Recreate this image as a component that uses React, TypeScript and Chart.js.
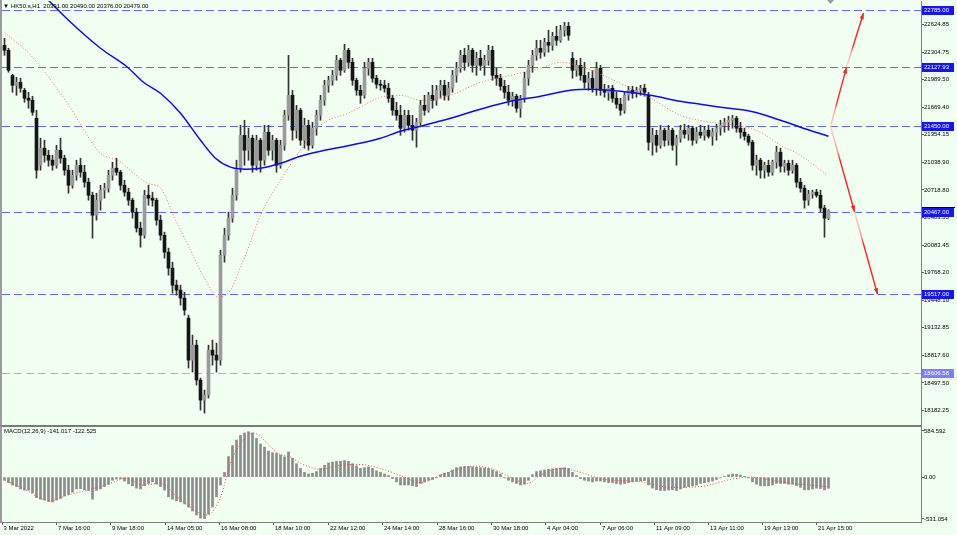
import React, { useEffect, useRef } from "react";
import { Chart, registerables } from "chart.js";
Chart.register(...registerables);

const FONT = "'Liberation Sans', Arial, sans-serif";
const BG = "#f0fff0";

// ---- H1 candles (bar index 0..206) ----
const opens = [
  22382, 22325, 22037, 21922, 21957, 21865, 21773, 21750, 21543, 21002,
  21198, 21117, 21060, 21002, 21175, 21083, 20945, 20772, 20887, 21002,
  20922, 20807, 20657, 20427, 20600, 20715, 20738, 20887, 20968, 20922,
  20772, 20692, 20600, 20462, 20278, 20197, 20657, 20623, 20600, 20370,
  20197, 20002, 19818, 19622, 19565, 19473, 19243, 18760, 18932, 18530,
  18300, 18357, 18875, 18817, 18760, 19967, 20197, 20393, 20657, 20968,
  21347, 21175, 21313, 21002, 21290, 21060, 21382, 21175, 21290, 21002,
  21232, 21577, 21807, 21405, 21635, 21290, 21462, 21232, 21428, 21577,
  21750, 21922, 21980, 22037, 22210, 22095, 22325, 22187, 21980, 21865,
  21807, 22118, 22187, 22003, 21934, 21922, 21888, 21773, 21635, 21577,
  21428, 21577, 21462, 21405, 21497, 21692, 21635, 21807, 21750, 21865,
  21922, 21807, 21888, 22037, 22118, 22267, 22187, 22325, 22152, 22233,
  22152, 22210, 22325, 22037, 22003, 21911, 21842, 21750, 21796, 21658,
  21773, 22003, 22152, 22267, 22348, 22302, 22417, 22382, 22486, 22440,
  22555, 22601, 22233, 22095, 22152, 22037, 21957, 22003, 21888, 22118,
  21865, 21842, 21888, 21773, 21704, 21635, 21807, 21865, 21830, 21865,
  21888, 21807, 21267, 21347, 21232, 21405, 21290, 21405, 21232, 21313,
  21405, 21359, 21428, 21290, 21382, 21347, 21405, 21336, 21382, 21428,
  21462, 21497, 21520, 21543, 21428, 21382, 21336, 21267, 21002, 21060,
  20945, 21002, 20922, 21037, 21152, 20991, 21025, 20945, 21002, 20807,
  20738, 20600, 20669, 20692, 20657, 20508, 20391,
];
const highs = [
  22463, 22348, 22049, 22014, 22003, 21888, 21842, 21796, 21635, 21313,
  21290, 21175, 21117, 21232, 21313, 21117, 21002, 20945, 21060, 21083,
  21002, 20853, 20692, 20680, 20772, 20795, 20945, 21037, 21083, 20945,
  20830, 20738, 20623, 20508, 20347, 20715, 20772, 20692, 20623, 20427,
  20232, 20048, 19887, 19680, 19622, 19542, 19277, 19047, 18990, 18553,
  18415, 18932, 18990, 18955, 20025, 20278, 20462, 20738, 21060, 21462,
  21520, 21428, 21347, 21347, 21313, 21462, 21462, 21347, 21313, 21290,
  21635, 22267, 21865, 21692, 21658, 21543, 21520, 21497, 21635, 21807,
  21980, 22026, 22095, 22267, 22233, 22394, 22348, 22233, 22003, 21922,
  22187, 22233, 22233, 22037, 21980, 21980, 21945, 21807, 21727, 21692,
  21635, 21635, 21577, 21543, 21750, 21807, 21842, 21922, 21922, 21980,
  21980, 21957, 22095, 22187, 22325, 22348, 22382, 22348, 22302, 22325,
  22267, 22382, 22371, 22118, 22049, 21980, 21922, 21842, 21819, 21807,
  22072, 22210, 22325, 22440, 22440, 22463, 22555, 22532, 22601, 22612,
  22647, 22647, 22302, 22210, 22233, 22187, 22072, 22095, 22187, 22152,
  21934, 21922, 21922, 21842, 21773, 21842, 21911, 21911, 21900, 21922,
  21934, 21842, 21428, 21405, 21462, 21428, 21462, 21428, 21347, 21462,
  21474, 21462, 21451, 21440, 21462, 21451, 21462, 21428, 21474, 21520,
  21543, 21566, 21577, 21566, 21497, 21428, 21359, 21290, 21117, 21083,
  21037, 21060, 21060, 21221, 21198, 21060, 21060, 21060, 21025, 20853,
  20772, 20715, 20715, 20726, 20715, 20542, 20490,
];
const lows = [
  22267, 22072, 21842, 21807, 21842, 21727, 21658, 21577, 20853, 20945,
  21037, 20991, 20945, 20968, 21025, 20887, 20680, 20738, 20830, 20864,
  20749, 20600, 20163, 20370, 20485, 20623, 20692, 20830, 20887, 20715,
  20646, 20542, 20393, 20232, 20059, 20163, 20542, 20531, 20312, 20140,
  19933, 19737, 19530, 19507, 19392, 19277, 18668, 18622, 18472, 18185,
  18150, 18323, 18702, 18622, 18702, 19887, 20140, 20347, 20600, 20922,
  21002, 21060, 20922, 20945, 20922, 21002, 21117, 21060, 20922, 20968,
  21175, 21520, 21290, 21313, 21232, 21198, 21175, 21198, 21347, 21520,
  21692, 21842, 21922, 21980, 22037, 22072, 22118, 21922, 21807, 21715,
  21773, 22037, 21957, 21888, 21865, 21842, 21727, 21577, 21520, 21347,
  21382, 21405, 21290, 21210, 21462, 21577, 21612, 21658, 21692, 21773,
  21750, 21750, 21842, 21957, 22072, 22095, 22141, 22072, 22037, 22095,
  22037, 22152, 21980, 21922, 21865, 21773, 21692, 21681, 21612, 21554,
  21727, 21922, 22072, 22210, 22233, 22256, 22302, 22325, 22382, 22417,
  22486, 22440, 22003, 22026, 21980, 21888, 21865, 21842, 21807, 21807,
  21784, 21750, 21727, 21658, 21577, 21600, 21750, 21773, 21784, 21807,
  21796, 21175, 21117, 21152, 21198, 21221, 21232, 21175, 21002, 21267,
  21313, 21290, 21232, 21255, 21313, 21290, 21313, 21232, 21290, 21347,
  21382, 21405, 21428, 21382, 21313, 21290, 21232, 20945, 20887, 20853,
  20853, 20876, 20887, 20968, 20922, 20922, 20887, 20910, 20749, 20692,
  20508, 20542, 20623, 20634, 20462, 20174, 20376,
];
const closes = [
  22325, 22095, 21922, 21957, 21888, 21773, 21750, 21612, 20945, 21198,
  21117, 21060, 21002, 21175, 21083, 20945, 20772, 20887, 21002, 20922,
  20807, 20657, 20427, 20600, 20715, 20738, 20887, 20968, 20922, 20772,
  20692, 20600, 20462, 20278, 20197, 20657, 20623, 20600, 20370, 20197,
  20002, 19818, 19622, 19565, 19473, 19335, 18760, 18932, 18530, 18300,
  18357, 18875, 18817, 18760, 19967, 20197, 20393, 20657, 20968, 21347,
  21175, 21313, 21002, 21290, 21060, 21382, 21175, 21290, 21002, 21232,
  21577, 21807, 21405, 21635, 21290, 21462, 21232, 21428, 21577, 21750,
  21922, 21980, 22037, 22210, 22095, 22325, 22187, 21980, 21865, 21807,
  22118, 22187, 22003, 21934, 21922, 21888, 21773, 21635, 21577, 21428,
  21577, 21462, 21405, 21497, 21692, 21635, 21807, 21750, 21865, 21922,
  21807, 21888, 22037, 22118, 22267, 22187, 22325, 22152, 22233, 22152,
  22210, 22325, 22037, 22003, 21911, 21842, 21750, 21796, 21658, 21773,
  22003, 22152, 22267, 22348, 22302, 22417, 22382, 22486, 22440, 22555,
  22601, 22497, 22095, 22152, 22037, 21957, 22003, 21888, 22118, 21865,
  21842, 21888, 21773, 21704, 21635, 21807, 21865, 21830, 21865, 21888,
  21842, 21267, 21347, 21232, 21405, 21290, 21405, 21232, 21313, 21405,
  21359, 21428, 21290, 21382, 21347, 21405, 21336, 21382, 21428, 21462,
  21497, 21520, 21543, 21428, 21382, 21336, 21267, 21002, 21060, 20945,
  21002, 20922, 21037, 21152, 20991, 21025, 20945, 21002, 20807, 20738,
  20600, 20669, 20692, 20657, 20508, 20393, 20479,
];

// ---- moving averages read at sample bars ----
const slowMaBars = [0, 6, 11, 16, 24, 30.75, 34.75, 39, 44, 49, 52.75, 56.5, 60.25, 64, 69, 74, 79, 86.5, 94, 99, 104, 111.5, 119, 126.5, 134, 141.5, 146.5, 154, 161.5, 169, 174, 179, 186.5, 194, 199, 206];
const slowMa = [23406, 23130, 22900, 22670, 22348, 22130, 21957, 21830, 21600, 21290, 21083, 20980, 20957, 20968, 21025, 21106, 21163, 21232, 21313, 21393, 21451, 21543, 21647, 21738, 21796, 21865, 21876, 21853, 21807, 21738, 21704, 21670, 21624, 21520, 21440, 21336];
const fastMaBars = [0, 7.25, 15.75, 24, 28.25, 35.75, 39, 42.75, 46.5, 50.25, 53.5, 56.5, 59, 60.75, 64, 69, 74, 79, 86.5, 94, 99, 104, 111.5, 119, 126.5, 134, 139, 144, 149, 156.5, 161.5, 169, 176.5, 184, 189, 194, 199, 205.75];
const fastMa = [22532, 22233, 21715, 21140, 21060, 20795, 20738, 20370, 20025, 19680, 19485, 19565, 19830, 20025, 20427, 20830, 21175, 21462, 21612, 21784, 21807, 21750, 21807, 21957, 22037, 22118, 22187, 22141, 22049, 21888, 21773, 21577, 21497, 21451, 21382, 21232, 21117, 20887];

// ---- MACD(12,26,9) ----
const macdMain = [
  -40, -70, -100, -120, -150, -165, -165, -200, -260, -280,
  -290, -310, -315, -290, -270, -240, -220, -190, -150, -145,
  -160, -170, -280, -170, -150, -120, -90, -40, -25, -20,
  -50, -85, -110, -140, -150, -110, -80, -60, -90, -120,
  -165, -250, -280, -300, -315, -340, -380, -430, -480, -520,
  -525, -470, -380, -250, -100, 60, 260, 400, 470, 530,
  560, 575, 560, 490, 420, 380, 330, 310, 300, 280,
  257, 320, 240, 170, 110, 60, 40, 50, 70, 110,
  150, 180, 190, 200, 200, 210, 200, 170, 140, 110,
  120, 130, 110, 80, 60, 40, 20, -20, -60, -100,
  -100, -100, -110, -120, -80, -60, -40, -30, -10, 30,
  50, 60, 90, 120, 130, 135, 135, 130, 125, 120,
  115, 110, 90, 70, 40, -10, -40, -60, -80, -100,
  -90, -40, 30, 70, 80, 90, 100, 105, 110, 115,
  120, 110, 60, 20, -20, -40, -50, -60, -50, -50,
  -60, -70, -70, -80, -90, -80, -70, -60, -55, -50,
  -45, -100, -140, -160, -170, -170, -165, -160, -170, -150,
  -130, -120, -110, -100, -80, -70, -60, -50, -30, -10,
  10, 30, 40, 35, 25, 10, -10, -60, -90, -110,
  -110, -110, -100, -80, -80, -80, -90, -90, -110, -130,
  -160, -160, -150, -140, -145, -160, -141.017,
];
const signalBars = [0, 4, 11.5, 15.75, 20.75, 26.5, 30.25, 34.75, 39, 43.25, 50.75, 54, 56.5, 59, 62.25, 65.75, 68.25, 71.5, 74, 79, 84, 89, 94, 99, 104, 109, 114, 117.25, 121.5, 124, 126.5, 129, 130.75, 134, 139, 144, 149, 159, 166.5, 174, 181.5, 186.5, 194, 199, 206];
const signalVals = [-38, -127, -300, -228, -165, -76, -17, -101, -76, -253, -481, -253, 177, 431, 557, 431, 304, 253, 177, 100, 150, 160, 110, 20, -70, 25, 110, 140, 110, 60, 0, -60, -80, 25, 110, 60, -20, -60, -130, -120, -30, 0, -60, -90, -122.525];

// ---- axes / annotations ----
const priceTicks = [22624.85, 22304.75, 21989.5, 21669.4, 21354.15, 21038.9, 20718.8, 20403.55, 20083.45, 19768.2, 19448.1, 19132.85, 18817.6, 18497.5, 18182.25];
const levels = [22785.0, 22127.93, 21450.0, 20467.0, 19517.0, 18606.58];
const levelLabels = ["22785.00", "22127.93", "21450.00", "20467.00", "19517.00", "18606.58"];
const timeTickBars = [-0.625, 13, 26.5, 40.25, 53.75, 67.25, 81, 94.5, 108.25, 121.75, 135.25, 149, 162.5, 176, 189.5, 203];
const timeLabels = ["3 Mar 2022", "7 Mar 16:00", "9 Mar 18:00", "14 Mar 05:00", "16 Mar 08:00", "18 Mar 10:00", "22 Mar 12:00", "24 Mar 14:00", "28 Mar 16:00", "30 Mar 18:00", "4 Apr 04:00", "7 Apr 06:00", "11 Apr 09:00", "13 Apr 11:00", "19 Apr 13:00", "21 Apr 15:00"];
const macdTicks = [584.592, 0, -531.054];
const macdTickLabels = ["584.592", "0.00", "-531.054"];
const arrowUpBars = [206.5, 210.5, 214.75];
const arrowUpPrices = [21450, 22127.93, 22754];
const arrowDownBars = [206.5, 212.5, 218.25];
const arrowDownPrices = [21450, 20467, 19517];
const headerText = "HK50.s,H1  20391.00 20490.00 20376.00 20479.00";
const macdTitle = "MACD(12,26,9) -141.017 -122.525";

const X_MIN = -0.625;
const X_MAX = 229.125;
const PRICE_MIN = 18013;
const PRICE_MAX = 22892;
const MACD_MIN = -569.1;
const MACD_MAX = 635.3;

const tickFont = { family: FONT, size: 6 };

function drawHead(ctx: CanvasRenderingContext2D, x0: number, y0: number, x1: number, y1: number) {
  const a = Math.atan2(y1 - y0, x1 - x0);
  const L = 6, W = 2.2;
  ctx.beginPath();
  ctx.moveTo(x1, y1);
  ctx.lineTo(x1 - L * Math.cos(a) + W * Math.sin(a), y1 - L * Math.sin(a) - W * Math.cos(a));
  ctx.lineTo(x1 - L * Math.cos(a) - W * Math.sin(a), y1 - L * Math.sin(a) + W * Math.cos(a));
  ctx.closePath();
  ctx.fill();
}

function segGradient(c: any) {
  if (!c || !c.p0 || !c.p1 || !c.chart) return "#ff2020";
  const g = c.chart.ctx.createLinearGradient(c.p0.x, c.p0.y, c.p1.x, c.p1.y);
  g.addColorStop(0, "#ffd0d0");
  g.addColorStop(0.28, "#ffa0a0");
  g.addColorStop(0.4, "#ff2424");
  g.addColorStop(1, "#ff2020");
  return g;
}

function arrowDatasets(bars: number[], prices: number[]) {
  const out: any[] = [];
  for (let k = 0; k < bars.length - 1; k++) {
    out.push({
      type: "line",
      data: [
        { x: bars[k], y: prices[k] },
        { x: bars[k + 1], y: prices[k + 1] },
      ],
      borderColor: "#ff2020",
      borderWidth: 1.4,
      pointRadius: 0,
      tension: 0,
      order: 0,
      segment: { borderColor: segGradient },
      isArrow: true,
    });
  }
  return out;
}

const mainPlugin = {
  id: "mainDeco",
  beforeDatasetsDraw(chart: any) {
    const { ctx, chartArea: a, scales } = chart;
    const y = scales.y;
    ctx.save();
    ctx.lineWidth = 1;
    ctx.setLineDash([8, 4]);
    levels.forEach((lv, k) => {
      const py = Math.round(y.getPixelForValue(lv)) + 0.5;
      ctx.strokeStyle = k === levels.length - 1 ? "#a9a9ff" : "#6464ff";
      ctx.beginPath();
      ctx.moveTo(a.left, py);
      ctx.lineTo(a.right, py);
      ctx.stroke();
    });
    ctx.restore();
  },
  afterDatasetsDraw(chart: any) {
    const { ctx } = chart;
    ctx.save();
    ctx.fillStyle = "#ff2020";
    chart.data.datasets.forEach((ds: any, i: number) => {
      if (!ds.isArrow) return;
      const pts = chart.getDatasetMeta(i).data;
      if (pts.length < 2) return;
      drawHead(ctx, pts[0].x, pts[0].y, pts[1].x, pts[1].y);
    });
    ctx.restore();
  },
  afterDraw(chart: any) {
    const { ctx, chartArea: a, scales } = chart;
    const y = scales.y;
    const x = scales.x;
    ctx.save();
    // value boxes on the price scale
    ctx.font = `6px ${FONT}`;
    ctx.textBaseline = "middle";
    ctx.textAlign = "left";
    levels.forEach((lv, k) => {
      const py = Math.round(y.getPixelForValue(lv));
      ctx.fillStyle = k === levels.length - 1 ? "#7d7dff" : "#1414ff";
      ctx.fillRect(a.right + 1, py - 4, 32, 9);
      if (k === 3) {
        ctx.fillStyle = "#000";
        ctx.fillRect(a.right + 1, py - 5, 33, 1);
      }
      ctx.fillStyle = "#ffffff";
      ctx.fillText(levelLabels[k], a.right + 3, py + 0.5);
    });
    // header
    ctx.fillStyle = "#000";
    ctx.font = `6px ${FONT}`;
    ctx.fillText("\u25BC", 3, 6);
    ctx.fillText(headerText, 11, 6);
    // chart shift marker
    const sx = x.getPixelForValue(206.5);
    ctx.fillStyle = "#9a9a9a";
    ctx.beginPath();
    ctx.moveTo(sx - 3.5, 0);
    ctx.lineTo(sx + 3.5, 0);
    ctx.lineTo(sx, 4);
    ctx.closePath();
    ctx.fill();
    // borders
    ctx.strokeStyle = "#9c9c9c";
    ctx.lineWidth = 2;
    ctx.beginPath();
    ctx.moveTo(1, 0);
    ctx.lineTo(1, a.bottom + 1);
    ctx.stroke();
    ctx.strokeStyle = "#7a7a7a";
    ctx.lineWidth = 1;
    ctx.beginPath();
    ctx.moveTo(0, a.bottom + 0.5);
    ctx.lineTo(a.right + 1, a.bottom + 0.5);
    ctx.stroke();
    ctx.restore();
  },
};

const macdPlugin = {
  id: "macdDeco",
  afterDraw(chart: any) {
    const { ctx, chartArea: a } = chart;
    ctx.save();
    ctx.fillStyle = "#000";
    ctx.font = `6px ${FONT}`;
    ctx.textBaseline = "middle";
    ctx.fillText(macdTitle, 4, a.top + 4);
    ctx.strokeStyle = "#7a7a7a";
    ctx.lineWidth = 1;
    ctx.beginPath();
    ctx.moveTo(0, 0.5);
    ctx.lineTo(a.right + 1, 0.5);
    ctx.stroke();
    ctx.strokeStyle = "#9c9c9c";
    ctx.lineWidth = 2;
    ctx.beginPath();
    ctx.moveTo(1, 0);
    ctx.lineTo(1, a.bottom + 1);
    ctx.stroke();
    ctx.restore();
  },
};

function zeroPad(s: any) {
  s.paddingTop = 0;
  s.paddingBottom = 0;
  s.paddingLeft = 0;
  s.paddingRight = 0;
}

function mainConfig(): any {
  const idx = closes.map((_, i) => i);
  return {
    type: "bar",
    data: {
      datasets: [
        ...arrowDatasets(arrowUpBars, arrowUpPrices),
        ...arrowDatasets(arrowDownBars, arrowDownPrices),
        {
          type: "line",
          data: slowMaBars.map((b, k) => ({ x: b, y: slowMa[k] })),
          borderColor: "#0a0aff",
          borderWidth: 1.5,
          pointRadius: 0,
          cubicInterpolationMode: "monotone",
          order: 1,
        },
        {
          type: "line",
          data: fastMaBars.map((b, k) => ({ x: b, y: fastMa[k] })),
          borderColor: "#ff6464",
          borderWidth: 1,
          borderDash: [1, 2],
          pointRadius: 0,
          cubicInterpolationMode: "monotone",
          order: 2,
        },
        {
          type: "bar",
          data: idx.map((i) => ({ x: i, y: [Math.min(opens[i], closes[i]), Math.max(opens[i], closes[i])] })),
          backgroundColor: idx.map((i) => (closes[i] >= opens[i] ? "#9a9a9a" : "#151515")),
          barThickness: 3,
          minBarLength: 1,
          grouped: false,
          order: 3,
        },
        {
          type: "bar",
          data: idx.map((i) => ({ x: i, y: [lows[i], highs[i]] })),
          backgroundColor: "#333333",
          barThickness: 1,
          grouped: false,
          order: 4,
        },
      ],
    },
    options: {
      responsive: false,
      animation: false,
      events: [],
      layout: { padding: { left: 2, top: 1, bottom: 1, right: 0 } },
      plugins: { legend: { display: false }, tooltip: { enabled: false } },
      scales: {
        x: { type: "linear", min: X_MIN, max: X_MAX, offset: false, display: false },
        y: {
          type: "linear",
          position: "right",
          min: PRICE_MIN,
          max: PRICE_MAX,
          afterFit: (s: any) => {
            s.width = 36;
            zeroPad(s);
          },
          afterBuildTicks: (s: any) => {
            s.ticks = priceTicks.map((v) => ({ value: v }));
          },
          ticks: {
            callback: (v: any) => Number(v).toFixed(2),
            font: tickFont,
            color: "#000",
            padding: 0,
            autoSkip: false,
          },
          grid: { drawOnChartArea: false, tickLength: 3, color: "#555" },
          border: { display: true, color: "#808080" },
        },
      },
    },
    plugins: [mainPlugin],
  };
}

function macdConfig(): any {
  const idx = macdMain.map((_, i) => i);
  return {
    type: "bar",
    data: {
      datasets: [
        {
          type: "line",
          data: signalBars.map((b, k) => ({ x: b, y: signalVals[k] })),
          borderColor: "#ff3c3c",
          borderWidth: 1,
          borderDash: [1, 2],
          pointRadius: 0,
          cubicInterpolationMode: "monotone",
          order: 0,
        },
        {
          type: "bar",
          data: idx.map((i) => ({ x: i, y: macdMain[i] })),
          backgroundColor: "#8c8c8c",
          barThickness: 2,
          grouped: false,
          order: 1,
        },
      ],
    },
    options: {
      responsive: false,
      animation: false,
      events: [],
      layout: { padding: { left: 2, top: 1, bottom: 0, right: 0 } },
      plugins: { legend: { display: false }, tooltip: { enabled: false } },
      scales: {
        x: {
          type: "linear",
          min: X_MIN,
          max: X_MAX,
          offset: false,
          position: "bottom",
          afterFit: (s: any) => {
            s.height = 13;
            zeroPad(s);
          },
          afterBuildTicks: (s: any) => {
            s.ticks = timeTickBars.map((v) => ({ value: v }));
          },
          ticks: {
            callback: (_v: any, i: number) => timeLabels[i],
            align: "start",
            maxRotation: 0,
            minRotation: 0,
            autoSkip: false,
            padding: 0,
            labelOffset: 1.5,
            font: tickFont,
            color: "#000",
          },
          grid: { drawOnChartArea: false, tickLength: 3, color: "#555", offset: false },
          border: { display: true, color: "#808080" },
        },
        y: {
          type: "linear",
          position: "right",
          min: MACD_MIN,
          max: MACD_MAX,
          afterFit: (s: any) => {
            s.width = 36;
            zeroPad(s);
          },
          afterBuildTicks: (s: any) => {
            s.ticks = macdTicks.map((v) => ({ value: v }));
          },
          ticks: {
            callback: (_v: any, i: number) => macdTickLabels[i],
            font: tickFont,
            color: "#000",
            padding: 0,
            autoSkip: false,
          },
          grid: { drawOnChartArea: false, tickLength: 3, color: "#555" },
          border: { display: true, color: "#808080" },
        },
      },
    },
    plugins: [macdPlugin],
  };
}

export default function App() {
  const mainRef = useRef<HTMLCanvasElement>(null);
  const macdRef = useRef<HTMLCanvasElement>(null);
  useEffect(() => {
    document.body.style.margin = "0";
    document.body.style.background = BG;
    const c1 = new Chart(mainRef.current as HTMLCanvasElement, mainConfig());
    const c2 = new Chart(macdRef.current as HTMLCanvasElement, macdConfig());
    return () => {
      c1.destroy();
      c2.destroy();
    };
  }, []);
  return (
    <div style={{ position: "fixed", left: 0, top: 0, width: 957, height: 535, background: BG, overflow: "hidden" }}>
      <canvas ref={mainRef} width={957} height={426} style={{ position: "absolute", left: 0, top: 0, width: 957, height: 426 }} />
      <canvas ref={macdRef} width={957} height={109} style={{ position: "absolute", left: 0, top: 426, width: 957, height: 109 }} />
    </div>
  );
}
